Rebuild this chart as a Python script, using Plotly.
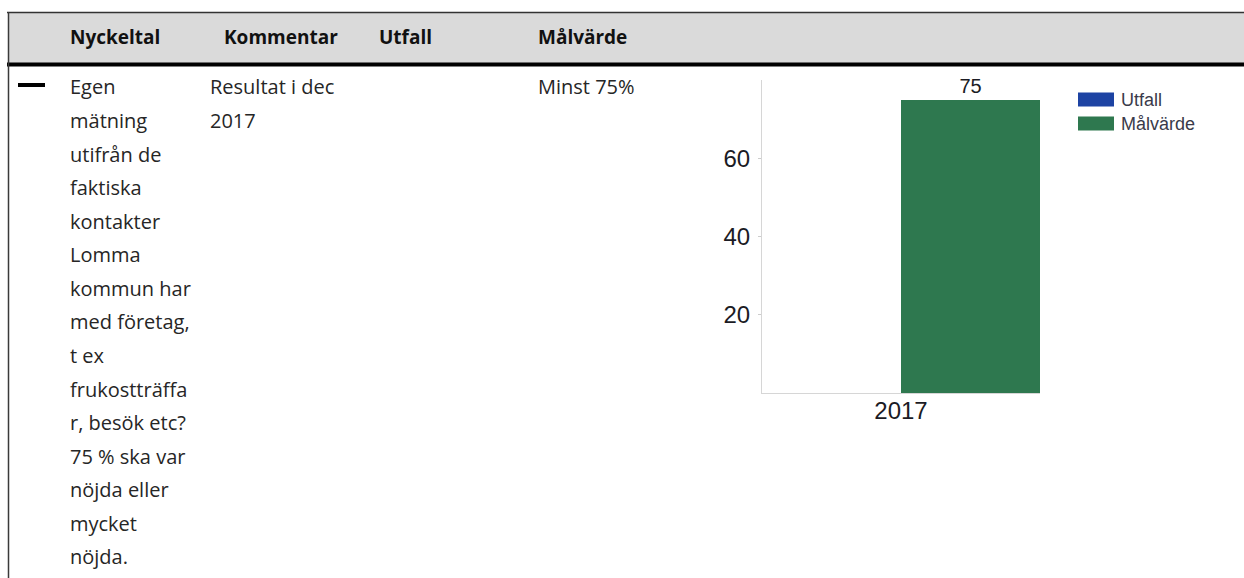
import plotly.graph_objects as go

W, H = 1244, 578

# ---- data ----
categories = ["2017"]
utfall_values = [None]
malvarde_values = [75]
series_names = ["Utfall", "Målvärde"]
series_colors = ["#1d43a3", "#2e784f"]
y_ticks = [20, 40, 60]

header_labels = ["Nyckeltal", "Kommentar", "Utfall", "Målvärde"]
nyckeltal_lines = ["Egen", "mätning", "utifrån de", "faktiska", "kontakter", "Lomma",
                   "kommun har", "med företag,", "t ex", "frukostträffa", "r, besök etc?",
                   "75 % ska var", "nöjda eller", "mycket", "nöjda."]
kommentar_lines = ["Resultat i dec", "2017"]
malvarde_lines = ["Minst 75%"]


def px(x):
    return x / W


def py(y):
    return 1 - y / H


fig = go.Figure()
fig.add_trace(go.Bar(x=categories, y=utfall_values, name=series_names[0],
                     marker=dict(color=series_colors[0], line=dict(width=0)),
                     showlegend=False))
fig.add_trace(go.Bar(x=categories, y=malvarde_values, name=series_names[1],
                     marker=dict(color=series_colors[1], line=dict(width=0)),
                     texttemplate="%{y}", textposition="outside",
                     textfont=dict(family="Liberation Sans", size=20, color="#1b1b24"),
                     cliponaxis=False, showlegend=False))

shapes = []
# header band
shapes.append(dict(type="rect", xref="paper", yref="paper", x0=px(8), x1=px(1244),
                   y0=py(64), y1=py(12), fillcolor="#dadada", line=dict(width=0), layer="below"))
shapes.append(dict(type="line", xref="paper", yref="paper", x0=px(7), x1=px(1244),
                   y0=py(12.5), y1=py(12.5), line=dict(color="#333333", width=1.5)))
shapes.append(dict(type="line", xref="paper", yref="paper", x0=px(7), x1=px(1244),
                   y0=py(64.5), y1=py(64.5), line=dict(color="#000000", width=4)))
# left border
shapes.append(dict(type="line", xref="paper", yref="paper", x0=px(8.5), x1=px(8.5),
                   y0=py(12), y1=py(578), line=dict(color="#3a3a3a", width=1.5)))
# dash marker
shapes.append(dict(type="rect", xref="paper", yref="paper", x0=px(18), x1=px(45),
                   y0=py(87), y1=py(83), fillcolor="#000000", line=dict(width=0)))

annotations = []
header_x = [68, 222, 377, 536]
for lab, hx in zip(header_labels, header_x):
    annotations.append(dict(text=lab, x=px(hx), y=py(37), xref="paper", yref="paper",
                            xanchor="left", yanchor="middle", showarrow=False,
                            font=dict(family="Open Sans", size=19, color="#111111", weight="bold")))

line_pitch = 33.57
for col_x, lines in [(68, nyckeltal_lines), (208, kommentar_lines), (536, malvarde_lines)]:
    for i, t in enumerate(lines):
        annotations.append(dict(text=t, x=px(col_x), y=py(87 + i * line_pitch),
                                xref="paper", yref="paper", xanchor="left", yanchor="middle",
                                showarrow=False,
                                font=dict(family="Open Sans", size=20, color="#262626")))

# legend (drawn manually to match the wide swatches)
legend_y = [99.5, 123.5]
for name, col, ly in zip(series_names, series_colors, legend_y):
    shapes.append(dict(type="rect", xref="paper", yref="paper", x0=px(1078), x1=px(1114),
                       y0=py(ly + 7), y1=py(ly - 7), fillcolor=col, line=dict(width=0)))
    annotations.append(dict(text=name, x=px(1119), y=py(ly), xref="paper", yref="paper",
                            xanchor="left", yanchor="middle", showarrow=False,
                            font=dict(family="Liberation Sans", size=18, color="#3a3a4a")))

fig.update_layout(
    width=W, height=H, autosize=False,
    margin=dict(l=0, r=0, t=0, b=0),
    paper_bgcolor="white", plot_bgcolor="white",
    barmode="group", bargap=0, bargroupgap=0,
    showlegend=False,
    shapes=shapes, annotations=annotations,
    xaxis=dict(domain=[px(762), px(1040)], showline=True, linecolor="#d6d6d6", linewidth=1,
               ticks="", showgrid=False, zeroline=False, ticklabelstandoff=-4,
               tickfont=dict(family="Liberation Sans", size=24, color="#1b1b24")),
    yaxis=dict(domain=[py(393), py(80)], range=[0, 80], tickvals=y_ticks,
               showline=True, linecolor="#d6d6d6", linewidth=1,
               ticks="outside", ticklen=3, tickcolor="#cccccc",
               showgrid=False, zeroline=False, ticklabelstandoff=3,
               tickfont=dict(family="Liberation Sans", size=24, color="#1b1b24")),
)

fig.write_html("out.html", config={"displayModeBar": False},
               post_script="document.body.style.margin='0';")
